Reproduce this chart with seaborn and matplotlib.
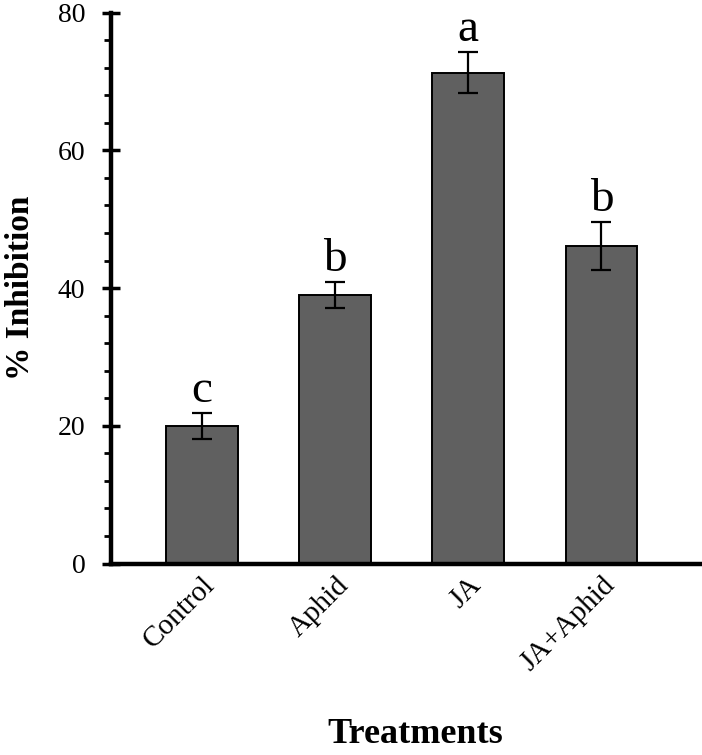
import matplotlib
matplotlib.use("Agg")
import matplotlib.pyplot as plt
import seaborn as sns
import pandas as pd
from matplotlib.ticker import MultipleLocator

# data
treatments = ["Control", "Aphid", "JA", "JA+Aphid"]
inhibition = [20.0, 39.0, 71.3, 46.1]
errors = [1.85, 1.95, 3.0, 3.5]
letters = ["c", "b", "a", "b"]

df = pd.DataFrame({"Treatment": treatments, "Inhibition": inhibition})

sns.set_style("ticks")
plt.rcParams["font.family"] = ["Liberation Serif", "DejaVu Serif"]
plt.rcParams["text.color"] = "black"
plt.rcParams["xtick.color"] = "black"
plt.rcParams["ytick.color"] = "black"
plt.rcParams["axes.labelcolor"] = "black"
plt.rcParams["axes.edgecolor"] = "black"

fig = plt.figure(figsize=(7.02, 7.55), dpi=100)
ax = fig.add_axes([111 / 702, 1 - 563.5 / 755, (700 - 111) / 702, (563.5 - 12.7) / 755])

sns.barplot(data=df, x="Treatment", y="Inhibition", color="#606060",
            edgecolor="black", linewidth=1.4, width=0.54, errorbar=None,
            saturation=1, ax=ax)
ax.errorbar(range(len(treatments)), inhibition, yerr=errors, fmt="none",
            ecolor="black", elinewidth=1.6, capsize=7, capthick=1.6)

for i, (v, e, s) in enumerate(zip(inhibition, errors, letters)):
    ax.text(i, v + e + 1.6, s, ha="center", va="baseline", fontsize=34)

ax.set_ylim(0, 80)
ax.set_xlim(-0.684, 3.74)
ax.yaxis.set_major_locator(MultipleLocator(20))
ax.yaxis.set_minor_locator(MultipleLocator(4))
sns.despine(ax=ax)
for sp in ["left", "bottom"]:
    ax.spines[sp].set_linewidth(3.2)
ax.tick_params(axis="y", which="major", direction="inout", length=13, width=2.5,
               labelsize=20, pad=12)
ax.tick_params(axis="y", which="minor", direction="out", length=5, width=2)
ax.tick_params(axis="x", length=0, labelsize=21, pad=6)
plt.setp(ax.get_xticklabels(), rotation=45, ha="right", rotation_mode="anchor")

ax.set_ylabel("% Inhibition", fontsize=24, fontweight="bold")
ax.yaxis.set_label_coords(-0.127, 0.5)
ax.set_xlabel("Treatments", fontsize=26, fontweight="bold")
ax.xaxis.set_label_coords(0.516, -0.281)

fig.savefig("out.png", dpi=100)
